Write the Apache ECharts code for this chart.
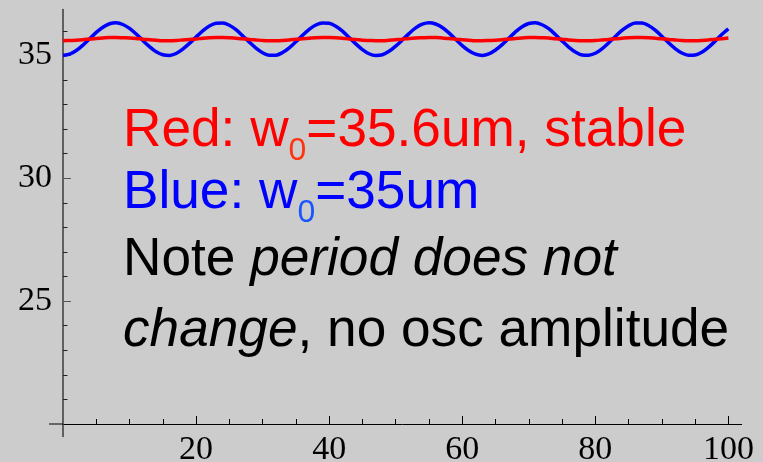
<!DOCTYPE html>
<html><head><meta charset="utf-8">
<script src="https://cdn.jsdelivr.net/npm/echarts@6/dist/echarts.min.js"></script>
<style>html,body{margin:0;padding:0;background:#cccccc}#c{width:763px;height:462px}</style>
</head><body><div id="c"></div>
<script>
// ---- data ----
const xValues = [0,1,2,3,4,5,6,7,8,9,10,11,12,13,14,15,16,17,18,19,20,21,22,23,24,25,26,27,28,29,30,31,32,33,34,35,36,37,38,39,40,41,42,43,44,45,46,47,48,49,50,51,52,53,54,55,56,57,58,59,60,61,62,63,64,65,66,67,68,69,70,71,72,73,74,75,76,77,78,79,80,81,82,83,84,85,86,87,88,89,90,91,92,93,94,95,96,97,98,99,100];
const blueValues = [35.00,35.05,35.20,35.42,35.68,35.94,36.15,36.29,36.33,36.26,
  36.10,35.87,35.61,35.36,35.15,35.03,35.00,35.08,35.26,35.49,
  35.75,36.00,36.20,36.31,36.32,36.23,36.05,35.80,35.54,35.30,
  35.11,35.01,35.01,35.12,35.31,35.56,35.82,36.06,36.24,36.32,
  36.31,36.19,35.99,35.73,35.47,35.24,35.07,35.00,35.03,35.17,
  35.38,35.63,35.89,36.12,36.27,36.33,36.28,36.14,35.92,35.66,
  35.40,35.19,35.05,35.00,35.06,35.22,35.44,35.70,35.96,36.17,
  36.30,36.33,36.25,36.09,35.85,35.59,35.34,35.14,35.02,35.01,
  35.09,35.27,35.51,35.77,36.02,36.21,36.32,36.32,36.22,36.03,
  35.78,35.52,35.28,35.10,35.01,35.02,35.13,35.33,35.58,35.85,36.08];
const redValues = [35.60,35.61,35.62,35.64,35.67,35.69,35.71,35.73,35.73,35.72,
  35.71,35.69,35.66,35.64,35.62,35.60,35.60,35.61,35.63,35.65,
  35.67,35.70,35.72,35.73,35.73,35.72,35.70,35.68,35.65,35.63,
  35.61,35.60,35.60,35.61,35.63,35.66,35.68,35.70,35.72,35.73,
  35.73,35.72,35.70,35.67,35.65,35.62,35.61,35.60,35.60,35.62,
  35.64,35.66,35.69,35.71,35.72,35.73,35.73,35.71,35.69,35.66,
  35.64,35.62,35.60,35.60,35.61,35.62,35.64,35.67,35.69,35.71,
  35.73,35.73,35.72,35.71,35.68,35.66,35.63,35.61,35.60,35.60,
  35.61,35.63,35.65,35.68,35.70,35.72,35.73,35.73,35.72,35.70,
  35.68,35.65,35.63,35.61,35.60,35.60,35.61,35.63,35.66,35.68,35.71];
const xTickValues = [20,40,60,80,100];
const xMinorTickValues = [5,10,15,25,30,35,45,50,55,65,70,75,85,90,95];
const yTickValues = [25,30,35];
const yMinorTickValues = [21,22,23,24,26,27,28,29,31,32,33,34,36];
const noteLines = [
  [{t:'Red: w', c:'#ff0000'}, {t:'0', c:'#ff3311', sub:true}, {t:'=35.6um, stable', c:'#ff0000'}],
  [{t:'Blue: w', c:'#0000ff'}, {t:'0', c:'#1a55ff', sub:true}, {t:'=35um', c:'#0000ff'}],
  [{t:'Note ', c:'#000000'}, {t:'period does not', c:'#000000', it:true}],
  [{t:'change', c:'#000000', it:true}, {t:', no osc amplitude', c:'#000000'}]
];

// ---- chart ----
const chart = echarts.init(document.getElementById('c'), null, {renderer:'canvas'});
const serif = '"Liberation Serif", "Times New Roman", serif';
const sans = '"Liberation Sans", Arial, sans-serif';
const X_MIN = 0, X_MAX = 102.0, Y_MIN = 20, Y_MAX = 36.87;

chart.setOption({
  backgroundColor: '#cccccc',
  animation: false,
  grid: {left: 63, right: 21.3, top: 9.5, bottom: 38, containLabel: false, outerBoundsMode: 'none'},
  xAxis: [{
    type: 'value', position: 'bottom', min: X_MIN, max: X_MAX,
    splitLine: {show: false},
    axisLine: {show: true, onZero: false, lineStyle: {color: '#000', width: 1}},
    axisTick: {show: true, inside: true, length: 8, customValues: xTickValues, lineStyle: {color: '#000', width: 1}},
    axisLabel: {show: true, customValues: xTickValues, margin: 9, color: '#000', fontFamily: serif, fontSize: 34, hideOverlap: false}
  }, {
    type: 'value', position: 'bottom', min: X_MIN, max: X_MAX,
    splitLine: {show: false},
    axisLine: {show: false, onZero: false},
    axisTick: {show: true, inside: true, length: 5, customValues: xMinorTickValues, lineStyle: {color: '#000', width: 1}},
    axisLabel: {show: false}
  }],
  yAxis: [{
    type: 'value', position: 'left', min: Y_MIN, max: Y_MAX,
    splitLine: {show: false},
    axisLine: {show: true, onZero: false, lineStyle: {color: '#444', width: 1.6}},
    axisTick: {show: true, inside: true, length: 8, customValues: yTickValues, lineStyle: {color: '#555', width: 1}},
    axisLabel: {show: true, customValues: yTickValues, margin: 11, color: '#000', fontFamily: serif, fontSize: 34}
  }, {
    type: 'value', position: 'left', min: Y_MIN, max: Y_MAX,
    splitLine: {show: false},
    axisLine: {show: false, onZero: false},
    axisTick: {show: true, inside: true, length: 4.5, customValues: yMinorTickValues, lineStyle: {color: '#222', width: 1}},
    axisLabel: {show: false}
  }],
  series: [{
    type: 'line', name: 'Blue', xAxisIndex: 0, yAxisIndex: 0,
    data: xValues.map((x, i) => [x, blueValues[i]]),
    showSymbol: false, smooth: 0.3, silent: true, clip: false,
    lineStyle: {color: '#0000ff', width: 3.5}
  }, {
    type: 'line', name: 'Red', xAxisIndex: 0, yAxisIndex: 0,
    data: xValues.map((x, i) => [x, redValues[i]]),
    showSymbol: false, smooth: 0.3, silent: true, clip: false,
    lineStyle: {color: '#ff0000', width: 3.5}
  }]
});

// ---- annotation text + axis stubs ----
const ctx = document.createElement('canvas').getContext('2d');
const MAIN = 53.2, SUB = 32, SUB_DROP = 13.5;
const TEXT_X = 123;
const baselines = [148, 210, 277, 348];
const graphics = [];
noteLines.forEach((segs, li) => {
  let x = TEXT_X;
  segs.forEach(s => {
    const size = s.sub ? SUB : MAIN;
    const fstyle = s.it ? 'italic' : 'normal';
    ctx.font = fstyle + ' ' + size + 'px ' + sans;
    const w = ctx.measureText(s.t).width;
    const base = baselines[li] + (s.sub ? SUB_DROP : 0);
    graphics.push({
      type: 'text', x: x, y: base - 0.31 * size, silent: true, z: 100,
      style: {text: s.t, fill: s.c, fontSize: size, fontFamily: sans, fontStyle: fstyle,
              align: 'left', verticalAlign: 'middle'}
    });
    x += w;
  });
});
const corner = chart.convertToPixel({xAxisIndex: 0, yAxisIndex: 0}, [X_MIN, Y_MIN]);
graphics.push({
  type: 'line', silent: true, z: 50,
  shape: {x1: corner[0], y1: corner[1], x2: corner[0], y2: corner[1] + 13},
  style: {stroke: '#444', lineWidth: 1.6}
});
graphics.push({
  type: 'line', silent: true, z: 50,
  shape: {x1: corner[0] - 14, y1: corner[1], x2: corner[0], y2: corner[1]},
  style: {stroke: '#000', lineWidth: 1}
});
chart.setOption({graphic: graphics});
</script>
</body></html>
